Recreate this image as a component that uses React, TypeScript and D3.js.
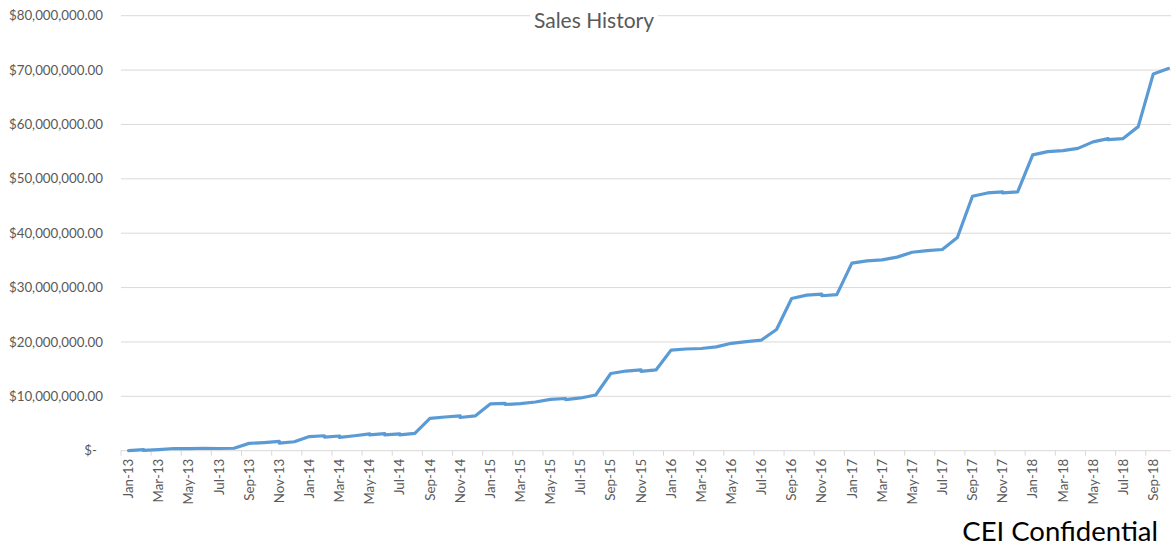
import React, { useEffect, useRef } from "react";
import * as d3 from "d3";

// category axis, one slot per month
const months = [
  "Jan-13", "Feb-13", "Mar-13", "Apr-13", "May-13", "Jun-13", "Jul-13", "Aug-13", "Sep-13", "Oct-13", "Nov-13", "Dec-13",
  "Jan-14", "Feb-14", "Mar-14", "Apr-14", "May-14", "Jun-14", "Jul-14", "Aug-14", "Sep-14", "Oct-14", "Nov-14", "Dec-14",
  "Jan-15", "Feb-15", "Mar-15", "Apr-15", "May-15", "Jun-15", "Jul-15", "Aug-15", "Sep-15", "Oct-15", "Nov-15", "Dec-15",
  "Jan-16", "Feb-16", "Mar-16", "Apr-16", "May-16", "Jun-16", "Jul-16", "Aug-16", "Sep-16", "Oct-16", "Nov-16", "Dec-16",
  "Jan-17", "Feb-17", "Mar-17", "Apr-17", "May-17", "Jun-17", "Jul-17", "Aug-17", "Sep-17", "Oct-17", "Nov-17", "Dec-17",
  "Jan-18", "Feb-18", "Mar-18", "Apr-18", "May-18", "Jun-18", "Jul-18", "Aug-18", "Sep-18", "Oct-18",
];

// some months carry two entries (the small notches in the line)
const pointMonths = [
  "Jan-13", "Feb-13", "Feb-13", "Mar-13", "Apr-13", "May-13", "Jun-13", "Jul-13", "Aug-13", "Sep-13", "Oct-13",
  "Nov-13", "Nov-13", "Dec-13",
  "Jan-14", "Feb-14", "Feb-14", "Mar-14", "Mar-14", "Apr-14", "May-14", "May-14", "Jun-14", "Jun-14",
  "Jul-14", "Jul-14", "Aug-14", "Sep-14", "Oct-14", "Nov-14", "Nov-14", "Dec-14",
  "Jan-15", "Feb-15", "Feb-15", "Mar-15", "Apr-15", "May-15", "Jun-15", "Jun-15", "Jul-15", "Aug-15",
  "Sep-15", "Oct-15", "Nov-15", "Nov-15", "Dec-15",
  "Jan-16", "Feb-16", "Mar-16", "Apr-16", "May-16", "Jun-16", "Jul-16", "Aug-16", "Sep-16", "Oct-16",
  "Nov-16", "Nov-16", "Dec-16",
  "Jan-17", "Feb-17", "Mar-17", "Apr-17", "May-17", "Jun-17", "Jul-17", "Aug-17", "Sep-17", "Oct-17",
  "Nov-17", "Nov-17", "Dec-17",
  "Jan-18", "Feb-18", "Mar-18", "Apr-18", "May-18", "Jun-18", "Jun-18", "Jul-18", "Aug-18", "Sep-18", "Oct-18",
];

// cumulative sales, millions of dollars
const pointValues = [
  0.0, 0.2, 0.05, 0.2, 0.4, 0.4, 0.45, 0.4, 0.45, 1.35, 1.5,
  1.7, 1.4, 1.65,
  2.6, 2.75, 2.5, 2.7, 2.45, 2.75, 3.1, 2.9, 3.15, 2.9,
  3.1, 2.9, 3.2, 5.95, 6.2, 6.4, 6.1, 6.4,
  8.6, 8.7, 8.5, 8.65, 8.95, 9.45, 9.6, 9.4, 9.7, 10.25,
  14.2, 14.65, 14.85, 14.6, 14.85,
  18.5, 18.7, 18.8, 19.1, 19.75, 20.05, 20.35, 22.3, 28.0, 28.6,
  28.8, 28.5, 28.7,
  34.5, 34.9, 35.1, 35.6, 36.5, 36.8, 37.0, 39.2, 46.8, 47.4,
  47.6, 47.4, 47.6,
  54.4, 55.0, 55.2, 55.6, 56.8, 57.4, 57.2, 57.4, 59.6, 69.3, 70.3,
];

const yTicks = [0, 10, 20, 30, 40, 50, 60, 70, 80];

const SalesHistory = () => {
  const chartRef = useRef<HTMLDivElement>(null);

  useEffect(() => {
    const container = chartRef.current;
    if (!container) return;
    container.innerHTML = "";

    const width = 1171;
    const height = 546;
    const left = 121;
    const bandW = 15.07;
    const top = 15.7;
    const bottom = 450.7;
    const textColor = "#595959";
    const gridColor = "#d9d9d9";
    const font = "Lato, 'Open Sans', sans-serif";

    const x = d3.scaleBand().domain(months).range([left, left + months.length * bandW]).paddingInner(0).paddingOuter(0);
    const y = d3.scaleLinear().domain([0, 80]).range([bottom, top]);

    const svg = d3.create("svg")
      .attr("width", width)
      .attr("height", height)
      .attr("style", "display: block; background: #fff;");

    // horizontal gridlines
    svg.append("g")
      .selectAll("line")
      .data(yTicks.filter(d => d > 0))
      .join("line")
      .attr("x1", left)
      .attr("x2", x.range()[1])
      .attr("y1", d => y(d))
      .attr("y2", d => y(d))
      .attr("stroke", gridColor)
      .attr("stroke-width", 1);

    // y labels
    const fmt = d3.format("$,.2f");
    svg.append("g")
      .attr("font-family", font)
      .attr("font-size", 13.3)
      .attr("fill", textColor)
      .attr("text-anchor", "end")
      .selectAll("text")
      .data(yTicks)
      .join("text")
      .attr("x", d => (d === 0 ? 97 : 103))
      .attr("y", d => y(d))
      .attr("dy", "0.35em")
      .text(d => (d === 0 ? "$-" : fmt(d * 1e6)));

    // x axis line and ticks
    svg.append("line")
      .attr("x1", left)
      .attr("x2", x.range()[1])
      .attr("y1", y(0))
      .attr("y2", y(0))
      .attr("stroke", gridColor)
      .attr("stroke-width", 1);

    const tickMonths = months.filter((_, i) => i % 2 === 0);
    svg.append("g")
      .selectAll("line")
      .data(tickMonths)
      .join("line")
      .attr("x1", d => x(d)!)
      .attr("x2", d => x(d)!)
      .attr("y1", y(0))
      .attr("y2", y(0) + 5)
      .attr("stroke", gridColor);

    svg.append("g")
      .attr("font-family", font)
      .attr("font-size", 13.3)
      .attr("fill", textColor)
      .attr("text-anchor", "end")
      .selectAll("text")
      .data(tickMonths)
      .join("text")
      .attr("transform", d => `translate(${x(d)! + bandW / 2},${y(0) + 8}) rotate(-90)`)
      .attr("dy", "0.35em")
      .text(d => d);

    // the sales line
    const pts: [number, number][] = pointMonths.map((m, i) => [x(m)! + bandW / 2, y(pointValues[i])]);
    svg.append("path")
      .attr("d", d3.line()(pts))
      .attr("fill", "none")
      .attr("stroke", "#5b9bd5")
      .attr("stroke-width", 3.2)
      .attr("stroke-linejoin", "round")
      .attr("stroke-linecap", "round");

    // title sits on a white box over the top gridline
    const title = svg.append("g");
    title.append("rect")
      .attr("x", 530)
      .attr("y", 7)
      .attr("width", 128)
      .attr("height", 28)
      .attr("fill", "#fff");
    title.append("text")
      .attr("x", 594)
      .attr("y", 28)
      .attr("text-anchor", "middle")
      .attr("font-family", font)
      .attr("font-size", 21)
      .attr("fill", textColor)
      .text("Sales History");

    svg.append("text")
      .attr("x", 1158)
      .attr("y", 541)
      .attr("text-anchor", "end")
      .attr("font-family", font)
      .attr("font-size", 27.5)
      .attr("fill", "#000")
      .text("CEI Confidential");

    container.appendChild(svg.node()!);
  }, []);

  return (
    <div style={{ position: "absolute", left: 0, top: 0, width: 1171, height: 546, overflow: "hidden" }}>
      <div ref={chartRef} />
    </div>
  );
};

export default SalesHistory;
